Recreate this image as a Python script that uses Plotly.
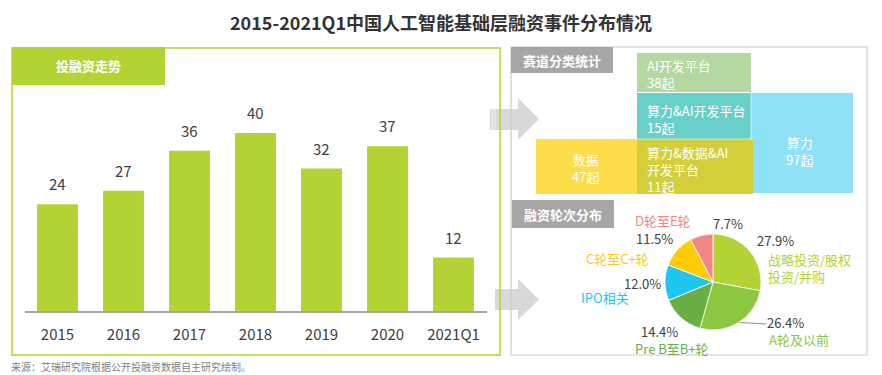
import plotly.graph_objects as go

W, H = 882, 375
def px(x): return x / W
def py(y): return 1 - y / H

FONT = "Noto Sans CJK SC, Noto Sans, sans-serif"

# ---- data ----
years = ["2015", "2016", "2017", "2018", "2019", "2020", "2021Q1"]
events = [24, 27, 36, 40, 32, 37, 12]

track_names = ["AI开发平台", "算力&AI开发平台", "算力&数据&AI<br>开发平台", "数据", "算力"]
track_counts = [38, 15, 11, 47, 97]

round_labels = ["战略投资/股权<br>投资/并购", "A轮及以前", "Pre B至B+轮", "IPO相关", "C轮至C+轮", "D轮至E轮"]
round_shares = [27.9, 26.4, 14.4, 12.0, 11.5, 7.7]
round_colors = ["#b3d335", "#8dc63f", "#6aaf44", "#1fc7ef", "#ffcb05", "#f28585"]

BAR_GREEN = "#b3d335"

fig = go.Figure()

fig.add_trace(go.Bar(
    x=years, y=events, marker=dict(color=BAR_GREEN, line=dict(width=0)),
    xaxis="x", yaxis="y", showlegend=False, hoverinfo="x+y",
))

fig.add_trace(go.Pie(
    labels=[l.replace("<br>", "") for l in round_labels], values=round_shares,
    sort=False, direction="clockwise", rotation=0,
    marker=dict(colors=round_colors, line=dict(color="#ffffff", width=0.8)),
    textinfo="none", showlegend=False,
    domain=dict(x=[px(665), px(761)], y=[py(330), py(234)]),
))

annotations = []
def note(x, y, text, size=13, color="#404040", xanchor="center", align="center", **kw):
    annotations.append(dict(x=px(x), y=py(y), xref="paper", yref="paper", text=text,
                            showarrow=False, xanchor=xanchor, yanchor="middle", align=align,
                            font=dict(size=size, color=color, family=FONT), **kw))

# bar value labels (placed by the category axis)
for i, v in enumerate(events):
    annotations.append(dict(x=i, y=v, xref="x", yref="y", text=str(v), showarrow=False,
                            xanchor="center", yanchor="bottom", yshift=8,
                            font=dict(size=15, color="#404040", family=FONT)))

note(441, 22, "<b>2015-2021Q1中国人工智能基础层融资事件分布情况</b>", size=18, color="#333333")
note(9, 366, "来源：艾瑞研究院根据公开投融资数据自主研究绘制。", size=10, color="#7f7f7f", xanchor="left")
note(88, 66, "<b>投融资走势</b>", color="#ffffff")
note(562, 60, "<b>赛道分类统计</b>", color="#ffffff")
note(563, 214, "<b>融资轮次分布</b>", color="#ffffff")

# venn texts
venn_pos = [(645, 74, "left"), (645, 119, "left"), (645, 169, "left"), (585, 168, "center"), (799, 151, "center")]
for name, cnt, (x, y, al) in zip(track_names, track_counts, venn_pos):
    note(x, y, f"{name}<br>{cnt}起", color="#ffffff", xanchor=al, align=al)

# pie labels
pct_pos = [(775, 240), (785, 322), (659, 331), (642, 283), (654, 238), (728, 223)]
name_pos = [(766, 268, "left"), (767, 339, "left"), (672, 348, "center"),
            (605, 297, "center"), (617, 258, "center"), (663, 220, "center")]
for lab, sh, col, (qx, qy), (nx, ny, al) in zip(round_labels, round_shares, round_colors, pct_pos, name_pos):
    note(qx, qy, f"{sh:.1f}%")
    note(nx, ny, lab, color=col, xanchor=al, align=al)

shapes = []
def rect(x0, y0, x1, y1, fill, line=None, lw=0):
    shapes.append(dict(type="rect", xref="paper", yref="paper",
                       x0=px(x0), x1=px(x1), y0=py(y1), y1=py(y0),
                       fillcolor=fill, line=dict(color=line or fill, width=lw), layer="below"))

def path(pts, fill):
    d = "M " + " L ".join(f"{px(x):.5f},{py(y):.5f}" for x, y in pts) + " Z"
    shapes.append(dict(type="path", xref="paper", yref="paper", path=d,
                       fillcolor=fill, line=dict(width=0), layer="below"))

def vline(x, y0, y1, color, w):
    shapes.append(dict(type="line", xref="paper", yref="paper", x0=px(x), x1=px(x), y0=py(y0), y1=py(y1),
                       line=dict(color=color, width=w), layer="below"))

# arrows
path([(490, 109), (518, 109), (518, 98), (539, 119), (518, 140), (518, 130), (490, 130)], "#d9d9d9")
vline(492.3, 109, 130, "#f4f4f4", 1)
vline(495, 109, 130, "#f0f0f0", 1)
path([(495, 289), (518, 289), (518, 279), (539, 299.5), (518, 320), (518, 310), (495, 310)], "#d9d9d9")

# left panel (border over arrows)
rect(12, 48, 500, 355, "rgba(0,0,0,0)", line=BAR_GREEN, lw=1.5)
rect(12, 47, 165, 85, BAR_GREEN)
# right panel
rect(511, 47, 867, 355, "rgba(0,0,0,0)", line="#cccccc", lw=1.2)
rect(511, 47, 613, 73, "#a6a6a6")
rect(512, 200, 614, 228, "#a6a6a6")

# venn boxes
rect(637, 53, 751, 92, "#b5d7a2")
rect(637, 93, 853, 193, "#8fe1f6")
rect(536, 139, 753, 194, "#fedd4c")
rect(637, 93, 751, 139, "#68d0c9")
rect(637, 139, 753, 194, "#d3cf3b")
shapes.append(dict(type="line", xref="paper", yref="paper", x0=px(637), x1=px(753), y0=py(139), y1=py(139),
                   line=dict(color="rgba(255,255,255,0.6)", width=1)))
shapes.append(dict(type="line", xref="paper", yref="paper", x0=px(751), x1=px(751), y0=py(93), y1=py(139),
                   line=dict(color="rgba(255,255,255,0.6)", width=1)))

# leader line for 26.4%
shapes.append(dict(type="line", xref="paper", yref="paper", x0=px(740), x1=px(766), y0=py(322.5), y1=py(324),
                   line=dict(color="#8c8c8c", width=1)))

fig.update_layout(
    width=W, height=H, margin=dict(l=0, r=0, t=0, b=0, pad=0, autoexpand=False),
    paper_bgcolor="#ffffff", plot_bgcolor="rgba(0,0,0,0)",
    font=dict(family=FONT, color="#404040"),
    bargap=0.38,
    xaxis=dict(type="category", range=[-0.5, len(years) - 0.5], autorange=False,
               domain=[px(24.5), px(486.5)], anchor="y", showgrid=False, zeroline=False,
               showline=True, linecolor="#a6a6a6", linewidth=1.5,
               ticks="outside", ticklen=0, tickcolor="rgba(0,0,0,0)",
               ticklabelstandoff=9,
               tickfont=dict(size=15, color="#404040", family=FONT), fixedrange=True),
    yaxis=dict(domain=[py(311), py(111)], range=[0, 200 / 4.45], autorange=False, visible=False,
               showgrid=False, zeroline=False, fixedrange=True),
    annotations=annotations, shapes=shapes,
)

fig.write_html("out.html", config={"displayModeBar": False},
               post_script="document.body.style.margin='0';document.body.style.overflow='hidden';")
